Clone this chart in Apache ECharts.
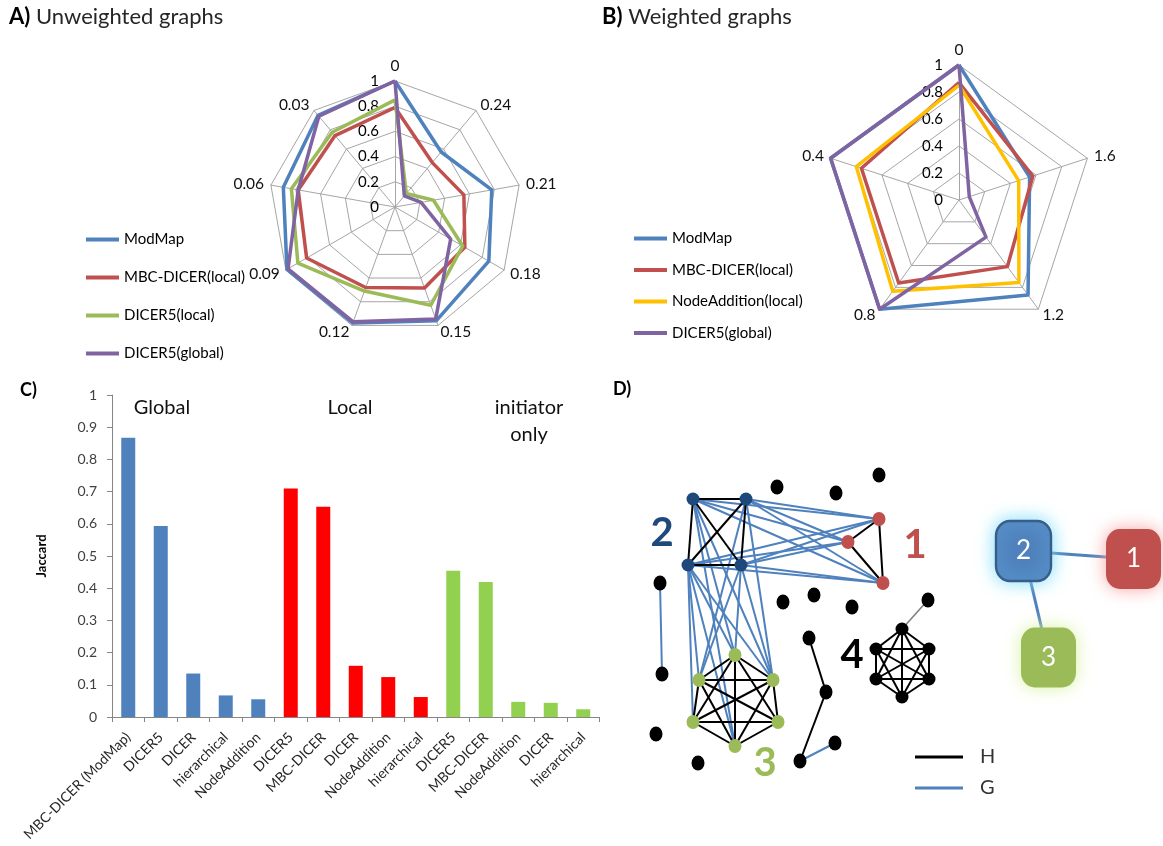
<!DOCTYPE html>
<html><head><meta charset="utf-8">
<script src="https://cdn.jsdelivr.net/npm/echarts@6/dist/echarts.min.js"></script>
<style>html,body{margin:0;padding:0;background:#fff}#c{width:1163px;height:846px}</style>
</head><body><div id="c"></div>
<script>
const FONT = 'Lato, "Liberation Sans", sans-serif';

// ---------- Panel A: unweighted graphs (radar) ----------
const radarAAxes = ['0','0.03','0.06','0.09','0.12','0.15','0.18','0.21','0.24'];
const radarANames = ['ModMap','MBC-DICER(local)','DICER5(local)','DICER5(global)'];
const radarAModMap      = [1.00,0.95,0.90,0.99,0.98,0.96,0.86,0.78,0.57];
const radarAMbcDicer    = [0.79,0.74,0.78,0.81,0.68,0.685,0.64,0.555,0.46];
const radarADicer5Local = [0.85,0.775,0.835,0.89,0.71,0.83,0.62,0.31,0.14];
const radarADicer5Global= [1.00,0.94,0.78,0.98,0.97,0.945,0.51,0.21,0.115];
const radarAColors = ['#4f81bd','#c0504d','#9bbb59','#8064a2'];

// ---------- Panel B: weighted graphs (radar) ----------
const radarBAxes = ['0','0.4','0.8','1.2','1.6'];
const radarBNames = ['ModMap','MBC-DICER(local)','NodeAddition(local)','DICER5(global)'];
const radarBModMap       = [1.00,1.00,1.00,0.87,0.55];
const radarBMbcDicer     = [0.87,0.76,0.76,0.61,0.575];
const radarBNodeAddition = [0.85,0.80,0.835,0.755,0.465];
const radarBDicer5Global = [1.00,1.00,1.00,0.34,0.08];
const radarBColors = ['#4f81bd','#c0504d','#ffc000','#8064a2'];

// ---------- Panel C: Jaccard bars ----------
const barCategories = ['MBC-DICER (ModMap)','DICER5','DICER','hierarchical','NodeAddition',
  'DICER5','MBC-DICER','DICER','NodeAddition','hierarchical',
  'DICER5','MBC-DICER','NodeAddition','DICER','hierarchical'];
const barValues = [0.867,0.593,0.135,0.067,0.055, 0.710,0.653,0.159,0.124,0.062, 0.454,0.419,0.047,0.044,0.024];
const barGroups = ['Global','Global','Global','Global','Global','Local','Local','Local','Local','Local',
  'initiator','initiator','initiator','initiator','initiator'];
const barGroupColors = {Global:'#4f81bd', Local:'#ff0000', initiator:'#92d050'};
const barAnnotations = [['Global',162,408],['Local',350,408],['initiator',529,408],['only',529,435]];

// ---------- Panel D: network ----------
const dNodes = [
  ['b1',93,49,'blue'],['b2',146,49,'blue'],['b3',88,115,'blue'],['b4',141,115,'blue'],
  ['r1',279,69,'red'],['r2',248,92,'red'],['r3',283,133,'red'],
  ['g1',135,205,'green'],['g2',99,230,'green'],['g3',173,230,'green'],['g4',93,272,'green'],['g5',178,272,'green'],['g6',135,296,'green'],
  ['k1',177,37,'black'],['k2',236,43,'black'],['k3',279,25,'black'],['k4',60,133,'black'],['k5',62,224,'black'],
  ['k6',183,152,'black'],['k7',214,145,'black'],['k8',252,157,'black'],['k9',209,188,'black'],['k10',226,242,'black'],
  ['k11',235,293,'black'],['k12',200,311,'black'],['k13',56,284,'black'],['k14',98,313,'black'],['k15',328,150,'black'],
  ['c1',302,179,'small'],['c2',276,199,'small'],['c3',329,199,'small'],['c4',276,229,'small'],['c5',329,229,'small'],['c6',302,247,'small']
];
const dCliqueGreen = ['g1','g2','g3','g4','g5','g6'];
const dCliqueFour  = ['c1','c2','c3','c4','c5','c6'];
const dEdgesH = [['b1','b2'],['b1','b3'],['b2','b4'],['b3','b4'],['b1','b4'],['b2','b3'],
  ['r1','r2'],['r2','r3'],['r1','r3'],['k9','k10'],['k10','k12']];
const dEdgesG = [['b1','r1'],['b1','r2'],['b1','r3'],['b2','r1'],['b2','r2'],['b2','r3'],
  ['b3','r1'],['b3','r2'],['b3','r3'],['b4','r1'],['b4','r2'],['b4','r3'],
  ['b1','g1'],['b1','g3'],['b1','g6'],['b2','g2'],['b2','g3'],['b3','g2'],['b3','g1'],['b3','g6'],
  ['b3','g3'],['b3','g4'],['b4','g2'],['b4','g3'],['b4','g1'],['k4','k5'],['k12','k11']];
const dEdgesGray = [['k15','c1']];
const dClusterLabels = [['2',62,83,'#1f497d'],['1',315,95,'#c0504d'],['3',165,313,'#9bbb59'],['4',252,205,'#000000']];
const dBoxes = [['2',423.5,101,'#4f81bd','#7fdcf7'],['1',533.5,109,'#c0504d','#f7a3a3'],['3',448.5,207.5,'#9bbb59','#d8f2a4']];
const dBoxLinks = [['2','1'],['2','3']];

const kindStyle = {
  blue:{color:'#1f497d', size:[13,13]}, red:{color:'#c0504d', size:[13,14]},
  green:{color:'#9bbb59', size:[13,14]}, black:{color:'#000000', size:[13,15]},
  small:{color:'#000000', size:[13,13]}
};

function cliquePairs(list){ const out=[]; for(let i=0;i<list.length;i++) for(let j=i+1;j<list.length;j++) out.push([list[i],list[j]]); return out; }

const graphLinks = []
  .concat(dEdgesG.map(e=>({source:e[0],target:e[1],lineStyle:{color:'#4f81bd',width:2,opacity:1}})))
  .concat(dEdgesH.concat(cliquePairs(dCliqueGreen), cliquePairs(dCliqueFour))
    .map(e=>({source:e[0],target:e[1],lineStyle:{color:'#000000',width:2,opacity:1}})))
  .concat(dEdgesGray.map(e=>({source:e[0],target:e[1],lineStyle:{color:'#808080',width:1.6,opacity:1}})));

function radarCfg(axes, center, radius){
  return {
    center: center, radius: radius, startAngle: 90, shape: 'polygon', splitNumber: 5,
    indicator: axes.map((a,i)=>({name:a, min:0, max:1,
      axisLabel: i===0 ? {show:true, color:'#000', fontSize:15, fontFamily:FONT, margin:16} : {show:false}})),
    axisName: {color:'#111', fontSize:15.5, fontFamily:FONT},
    nameGap: 7,
    splitLine: {lineStyle:{color:'#a6a6a6', width:1}},
    splitArea: {show:false},
    axisLine: {lineStyle:{color:'#a6a6a6', width:1}},
    axisTick: {show:false},
    axisLabel: {show:false}
  };
}
function radarSeries(idx, names, vals, colors){
  return {type:'radar', radarIndex: idx, symbol:'none', silent:true,
    data: names.map((n,i)=>({name:n, value:vals[i], lineStyle:{color:colors[i], width:3.5}, itemStyle:{color:colors[i]}}))};
}
function radarLegend(names, left, top, gap){
  return {data:names, orient:'vertical', left:left, top:top, icon:'rect', itemWidth:33, itemHeight:4,
    itemGap:gap, selectedMode:false, textStyle:{fontFamily:FONT, fontSize:15, color:'#000', lineHeight:17}};
}

const chart = echarts.init(document.getElementById('c'), null, {renderer:'canvas'});
chart.setOption({
  animation:false,
  backgroundColor:'#ffffff',
  title:[
    {text:'{b|A)} Unweighted graphs', left:4, top:1, padding:5,
      textStyle:{fontFamily:FONT, fontSize:22, fontWeight:'normal', color:'#262626',
        rich:{b:{fontFamily:FONT, fontSize:22, fontWeight:'bold', color:'#000'}}}},
    {text:'{b|B)} Weighted graphs', left:597, top:1, padding:5,
      textStyle:{fontFamily:FONT, fontSize:22, fontWeight:'normal', color:'#262626',
        rich:{b:{fontFamily:FONT, fontSize:22, fontWeight:'bold', color:'#000'}}}},
    {text:'C)', left:15, top:376, padding:5, textStyle:{fontFamily:FONT, fontSize:18, fontWeight:'bold', color:'#000'}},
    {text:'D)', left:608, top:375, padding:5, textStyle:{fontFamily:FONT, fontSize:18, fontWeight:'bold', color:'#000'}}
  ],
  radar:[ radarCfg(radarAAxes, [395,207], 126), radarCfg(radarBAxes, [959,200], 135) ],
  legend:[
    radarLegend(radarANames, 81, 226, 21),
    radarLegend(radarBNames, 629, 225, 14.5),
    {data:['H','G'], orient:'vertical', left:910, top:741, icon:'rect', itemWidth:48, itemHeight:3, itemGap:9,
      selectedMode:false, textStyle:{fontFamily:FONT, fontSize:20, color:'#333', lineHeight:22, padding:[0,0,0,12]}}
  ],
  grid:[
    {left:112, top:395, width:487.5, height:322},
    {left:600, top:450, width:563, height:346}
  ],
  xAxis:[
    {type:'category', gridIndex:0, data:barCategories,
      axisLine:{lineStyle:{color:'#868686', width:1}},
      axisTick:{show:true, length:5, lineStyle:{color:'#868686'}},
      axisLabel:{rotate:45, interval:0, fontFamily:FONT, fontSize:14, color:'#262626', margin:18}},
    {type:'value', gridIndex:1, min:0, max:563, show:false}
  ],
  yAxis:[
    {type:'value', gridIndex:0, min:0, max:1, interval:0.1,
      name:'Jaccard', nameLocation:'middle', nameGap:64,
      nameTextStyle:{fontFamily:FONT, fontSize:13, fontWeight:'bold', color:'#000'},
      splitLine:{show:false},
      axisLine:{show:true, lineStyle:{color:'#868686', width:1}},
      axisTick:{show:true, length:5, lineStyle:{color:'#868686'}},
      axisLabel:{fontFamily:FONT, fontSize:14, color:'#404040', margin:15}},
    {type:'value', gridIndex:1, min:0, max:346, inverse:true, show:false}
  ],
  graphic: barAnnotations.map(a=>({type:'text', x:a[1], y:a[2], silent:true,
    style:{text:a[0], fill:'#111', font:'20px ' + FONT, align:'center', verticalAlign:'middle',
      textAlign:'center', textVerticalAlign:'middle'}})),
  series:[
    radarSeries(0, radarANames, [radarAModMap, radarAMbcDicer, radarADicer5Local, radarADicer5Global], radarAColors),
    radarSeries(1, radarBNames, [radarBModMap, radarBMbcDicer, radarBNodeAddition, radarBDicer5Global], radarBColors),
    {type:'bar', xAxisIndex:0, yAxisIndex:0, barWidth:14, silent:true,
      data: barValues.map((v,i)=>({value:v, itemStyle:{color:barGroupColors[barGroups[i]]}}))},
    {type:'graph', coordinateSystem:'cartesian2d', xAxisIndex:1, yAxisIndex:1, layout:'none', silent:true,
      symbol:'circle', label:{show:false}, lineStyle:{opacity:1},
      data: dNodes.map(n=>({name:n[0], value:[n[1],n[2]], symbolSize:kindStyle[n[3]].size,
        itemStyle:{color:kindStyle[n[3]].color, opacity:1}})),
      links: graphLinks},
    {type:'graph', coordinateSystem:'cartesian2d', xAxisIndex:1, yAxisIndex:1, layout:'none', silent:true,
      symbol:'roundRect', symbolSize:[55,60], lineStyle:{opacity:1},
      data: dBoxes.map(b=>({name:b[0], value:[b[1],b[2]],
        itemStyle:{color:b[3], shadowBlur:18, shadowColor:b[4], opacity:1,
          borderColor: b[0]==='2' ? '#385d8a' : b[3], borderWidth: b[0]==='2' ? 2.5 : 0},
        label:{show:true, position:'inside', formatter:'{b}', color:'#fff', fontSize:26, fontFamily:FONT}})),
      links: dBoxLinks.map(l=>({source:l[0], target:l[1], lineStyle:{color:'#4f81bd', width:3, opacity:1}}))},
    {type:'scatter', xAxisIndex:1, yAxisIndex:1, silent:true, symbolSize:1,
      itemStyle:{color:'rgba(0,0,0,0)', opacity:1},
      data: dClusterLabels.map(c=>({value:[c[1],c[2]], name:c[0],
        label:{show:true, position:'inside', formatter:'{b}', color:c[3], opacity:1,
          fontSize:40, fontWeight:'bold', fontFamily:FONT}}))},
    {type:'line', name:'H', xAxisIndex:1, yAxisIndex:1, data:[], color:'#000000', lineStyle:{color:'#000'}},
    {type:'line', name:'G', xAxisIndex:1, yAxisIndex:1, data:[], color:'#4f81bd', lineStyle:{color:'#4f81bd'}}
  ]
});
</script></body></html>
